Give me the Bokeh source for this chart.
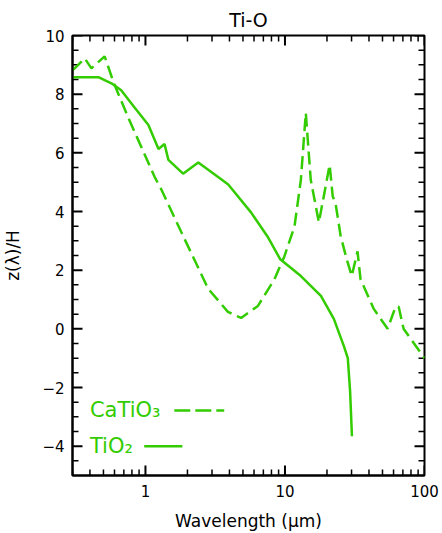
import math
from bokeh.plotting import figure
from bokeh.models import Range1d, FixedTicker
from bokeh.core.properties import value
from bokeh.embed import file_html
from bokeh.resources import INLINE

# ---- data ----
tio2_wl = [0.30, 0.46, 0.57, 0.67, 0.83, 1.05, 1.24, 1.37, 1.46, 1.86, 2.39, 3.49, 3.92,
           5.71, 7.56, 9.25, 13.0, 18.1, 22.4, 26.4, 28.2, 29.3, 30.2]
tio2_z = [8.58, 8.58, 8.37, 8.13, 7.56, 6.95, 6.13, 6.30, 5.76, 5.29, 5.67, 5.10, 4.92,
          3.97, 3.12, 2.37, 1.80, 1.12, 0.34, -0.58, -1.00, -2.14, -3.66]

catio3_wl = [0.30, 0.367, 0.41, 0.51, 0.59, 0.75, 1.16, 1.30, 1.81, 2.82, 3.90, 4.85, 6.40,
             8.40, 9.90, 11.7, 13.0, 14.1, 15.3, 17.5, 20.9, 22.0, 23.0, 25.1, 27.7, 30.1,
             33.1, 34.8, 43.3, 54.4, 62.0, 65.3, 70.8, 100.0]
catio3_z = [8.81, 9.22, 8.88, 9.29, 8.41, 7.22, 5.19, 4.75, 3.29, 1.36, 0.58, 0.37, 0.78,
            1.69, 2.47, 3.49, 5.08, 7.36, 5.08, 3.63, 5.59, 4.51, 4.30, 3.15, 2.37, 1.80,
            2.64, 1.69, 0.68, 0.00, 0.75, 0.75, 0.00, -1.00]

x_major_ticks = [1, 10, 100]
x_minor_ticks = [0.3, 0.4, 0.5, 0.6, 0.7, 0.8, 0.9, 2, 3, 4, 5, 6, 7, 8, 9,
                 20, 30, 40, 50, 60, 70, 80, 90]
x_tick_labels = {1: "1", 10: "10", 100: "100"}
y_major_ticks = [-4, -2, 0, 2, 4, 6, 8, 10]
y_minor_ticks = [-4.5, -3.5, -3.0, -2.5, -1.5, -1.0, -0.5, 0.5, 1.0, 1.5, 2.5, 3.0, 3.5,
                 4.5, 5.0, 5.5, 6.5, 7.0, 7.5, 8.5, 9.0, 9.5]

legend_names = ["CaTiO\u2083", "TiO\u2082"]

GREEN = "#33cc00"
FONT = "DejaVu Sans"
X0, X1, Y0, Y1 = 0.3, 100, -5, 10
W, H = 442, 533
BL, BR, BT, BB = 72, 18, 35, 56

p = figure(width=W, height=H, x_axis_type="log",
           x_range=Range1d(X0, X1), y_range=Range1d(Y0, Y1),
           output_backend="svg", toolbar_location=None,
           min_border_left=BL, min_border_right=BR, min_border_top=BT, min_border_bottom=BB,
           title="Ti-O")
p.title.align = "center"
p.title.text_font = FONT
p.title.text_font_size = "19px"
p.title.text_font_style = "normal"
p.title.text_color = "black"

p.grid.visible = False
p.outline_line_color = "black"
p.outline_line_width = 2
p.background_fill_color = "white"
p.border_fill_color = "white"

xt = FixedTicker(ticks=x_major_ticks, minor_ticks=x_minor_ticks)
yt = FixedTicker(ticks=y_major_ticks, minor_ticks=y_minor_ticks)

def style(ax):
    ax.axis_line_width = 2
    ax.major_tick_in = 0
    ax.major_tick_out = 0
    ax.minor_tick_in = 0
    ax.minor_tick_out = 0
    ax.major_label_text_font = FONT
    ax.major_label_text_font_size = "15px"
    ax.major_label_text_color = "black"
    ax.axis_label_text_font = FONT
    ax.axis_label_text_font_style = "normal"
    ax.axis_label_text_color = "black"

xa = p.xaxis[0]
xa.ticker = xt
xa.major_label_overrides = x_tick_labels
style(xa)
xa.major_label_standoff = 9
xa.axis_label = "Wavelength (\u03bcm)"
xa.axis_label_text_font_size = "17px"
xa.axis_label_standoff = 11

ya = p.yaxis[0]
ya.ticker = yt
style(ya)
ya.major_label_standoff = 8
ya.axis_label = "z(\u03bb)/H"
ya.axis_label_text_font_size = "17px"
ya.axis_label_standoff = 16

# inward tick marks on all four sides (pixel lengths converted to data lengths)
px_per_decade = (W - BL - BR) / math.log10(X1 / X0)
px_per_unit = (H - BT - BB) / (Y1 - Y0)

def xfac(px):
    return 10 ** (px / px_per_decade)

def yd(px):
    return px / px_per_unit

TICK = "black"
for tl, ln, lw in ((y_major_ticks, 10, 2), (y_minor_ticks, 6, 1.5)):
    n = len(tl)
    p.segment(x0=[X0] * n, y0=tl, x1=[X0 * xfac(ln)] * n, y1=tl, line_color=TICK, line_width=lw)
    p.segment(x0=[X1] * n, y0=tl, x1=[X1 / xfac(ln)] * n, y1=tl, line_color=TICK, line_width=lw)
for tl, ln, lw in ((x_major_ticks, 10, 2), (x_minor_ticks, 6, 1.5)):
    n = len(tl)
    p.segment(x0=tl, y0=[Y0] * n, x1=tl, y1=[Y0 + yd(ln)] * n, line_color=TICK, line_width=lw)
    p.segment(x0=tl, y0=[Y1] * n, x1=tl, y1=[Y1 - yd(ln)] * n, line_color=TICK, line_width=lw)

p.line(catio3_wl, catio3_z, line_color=GREEN, line_width=2.5, line_dash="13 6")
p.line(tio2_wl, tio2_z, line_color=GREEN, line_width=2.5)

# legend (label first, then line sample)
p.text(x=[0.40, 0.40], y=[-2.78, -4.0], text=legend_names, text_color=GREEN,
       text_font=value(FONT), text_font_size="21px", text_baseline="middle")
p.line([1.61, 3.67], [-2.78, -2.78], line_color=GREEN, line_width=2.5, line_dash="16 5")
p.line([0.98, 1.84], [-4.0, -4.0], line_color=GREEN, line_width=2.5)

open("out.html", "w").write(file_html(p, INLINE))
